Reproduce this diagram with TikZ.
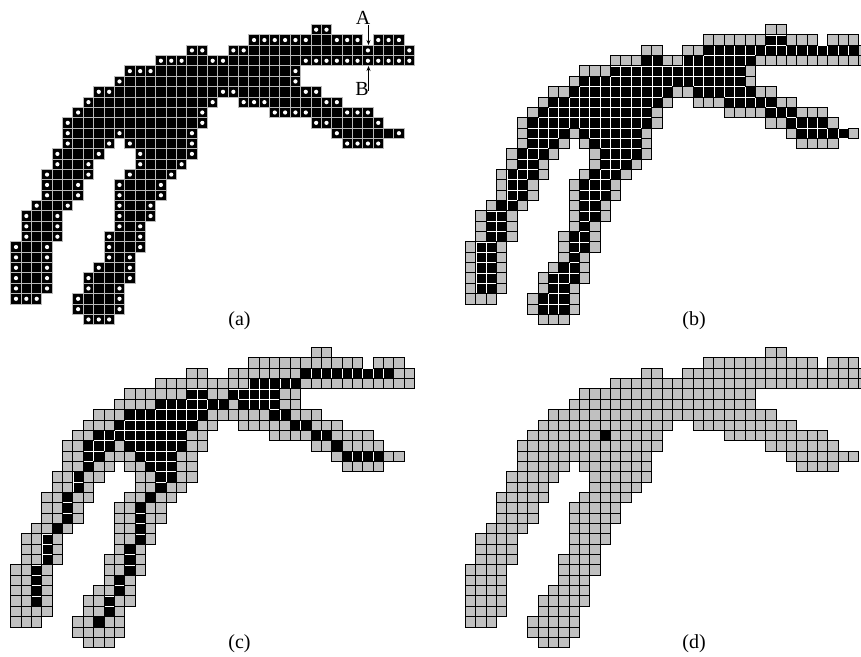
\documentclass[tikz,border=0pt]{standalone}
\usepackage{fontspec}
\setmainfont{Liberation Serif}
\usetikzlibrary{arrows.meta}
\definecolor{cellgray}{RGB}{192,192,192}
\definecolor{agrid}{RGB}{185,185,185}
\def\S{10.35}
\def\hs{5.175}
\def\shapelist{0/29/30,1/23/33,1/35/37,2/17/18,2/21/38,3/14/38,4/11/27,5/10/27,6/8/29,7/7/19,7/22/31,8/6/18,8/25/34,9/5/18,9/29/35,10/5/17,10/31/37,11/5/9,11/11/17,11/32/35,12/4/8,12/12/17,13/4/7,13/12/16,14/3/7,14/11/15,15/3/6,15/10/14,16/3/6,16/10/14,17/2/5,17/10/13,18/1/4,18/10/13,19/1/4,19/10/12,20/1/4,20/9/12,21/0/3,21/9/12,22/0/3,22/9/11,23/0/3,23/8/11,24/0/3,24/7/11,25/0/3,25/7/10,26/0/2,26/6/10,27/6/10,28/7/9}
\def\blackA{1/29/30,2/23/33,2/35/37,3/17/18,3/21/27,4/14/26,5/11/26,6/10/19,6/22/27,7/8/18,7/25/29,8/7/17,8/29/31,9/6/17,9/31/34,10/6/9,10/11/16,10/32/36,11/6/8,11/12/16,12/5/7,12/13/16,13/5/6,13/13/15,14/4/6,14/12/14,15/4/5,15/11/13,16/4/5,16/11/13,17/3/4,17/11/12,18/2/3,18/11/12,19/2/3,19/11/11,20/2/3,20/10/11,21/1/2,21/10/11,22/1/2,22/10/10,23/1/2,23/9/10,24/1/2,24/8/10,25/1/2,25/8/9,26/7/9,27/7/9}
\def\blackB{1/29/30,2/23/37,3/17/18,3/21/27,4/14/26,5/11/26,6/10/19,6/22/27,7/8/18,7/25/29,8/7/17,8/29/31,9/6/17,9/31/34,10/6/9,10/11/16,10/32/36,11/6/8,11/12/16,12/5/7,12/13/16,13/5/6,13/13/15,14/4/6,14/12/14,15/4/5,15/11/13,16/4/5,16/11/13,17/3/4,17/11/12,18/2/3,18/11/12,19/2/3,19/11/11,20/2/3,20/10/11,21/1/2,21/10/11,22/1/2,22/10/10,23/1/2,23/9/10,24/1/2,24/8/10,25/1/2,25/8/9,26/7/9,27/7/9}
\def\blackC{2/28/36,3/23/27,4/17/18,4/21/25,5/14/20,5/22/25,6/11/18,6/25/26,7/10/17,7/27/28,8/8/16,8/29/30,9/7/9,9/11/16,9/31/31,10/7/8,10/12/15,10/32/35,11/7/7,11/13/15,12/6/6,12/14/15,13/6/6,13/14/14,14/5/5,14/13/13,15/5/5,15/12/12,16/5/5,16/12/12,17/4/4,17/12/12,18/3/3,18/12/12,19/3/3,19/11/11,20/3/3,20/11/11,21/2/2,21/11/11,22/2/2,22/10/10,23/2/2,23/10/10,24/2/2,24/9/9,25/9/9,26/8/8}
\def\blackD{8/13/13}
\newcommand\markcells[2]{%
  \foreach \ri/\ca/\cb in #2 {\foreach \ci in {\ca,...,\cb} {\expandafter\gdef\csname k#1-\ci-\ri\endcsname{}}}}
\newcommand\graypanel[4]{%
  \markcells{#3}{#4}%
  \foreach \ri/\ca/\cb in #4 {\foreach \ci in {\ca,...,\cb} {\path[cellk] ({#1+\S*\ci-\hs},{#2+\S*\ri-\hs}) rectangle ++(\S,\S);}}%
  \foreach \ri/\ca/\cb in \shapelist {\foreach \ci in {\ca,...,\cb} {\ifcsname k#3-\ci-\ri\endcsname\else\path[cellg] ({#1+\S*\ci-\hs},{#2+\S*\ri-\hs}) rectangle ++(\S,\S);\fi}}}
\begin{document}
\begin{tikzpicture}[x=1pt,y=-1pt,
  lbl/.style={font=\fontsize{20}{20}\selectfont, inner sep=0pt},
  ptr/.style={line width=0.8pt, -{Stealth[length=5pt,width=4pt]}},
  cellg/.style={fill=cellgray, draw=black, line width=0.9pt},
  cellk/.style={fill=black, draw=white, line width=0.6pt},
  cella/.style={fill=black, draw=agrid, line width=0.9pt}]
\useasboundingbox (0,0) rectangle (861,656);
\clip (0,0) rectangle (861,656);
% panel (a)
\markcells{a}{\blackA}
\foreach \ri/\ca/\cb in \shapelist {\foreach \ci in {\ca,...,\cb} {%
  \path[cella] ({16+\S*\ci-\hs},{29.7+\S*\ri-\hs}) rectangle ++(\S,\S);%
  \ifcsname ka-\ci-\ri\endcsname\else\fill[white] ({16+\S*\ci},{29.7+\S*\ri}) circle (2.1pt);\fi}}
% panels (b), (c), (d)
\graypanel{470.7}{29.7}{b}{\blackB}
\graypanel{16}{352.7}{c}{\blackC}
\graypanel{470.7}{352.7}{d}{\blackD}
% labels
\node[lbl] (la) at (239.5,321) {(a)};
\node[lbl] (lb) at (694,321) {(b)};
\node[lbl] (lc) at (239.5,644) {(c)};
\node[lbl] (ld) at (694,644) {(d)};
% A and B pointers
\node[lbl] (A) at (363,18) {A};
\node[lbl] (B) at (362,88.5) {B};
\coordinate (Afrom) at (368.5,25);
\coordinate (Ato) at (368.5,45);
\coordinate (Bfrom) at (368.5,91);
\coordinate (Bto) at (368.5,66);
\draw[ptr] (Afrom) -- (Ato);
\draw[ptr] (Bfrom) -- (Bto);
\end{tikzpicture}
\end{document}
